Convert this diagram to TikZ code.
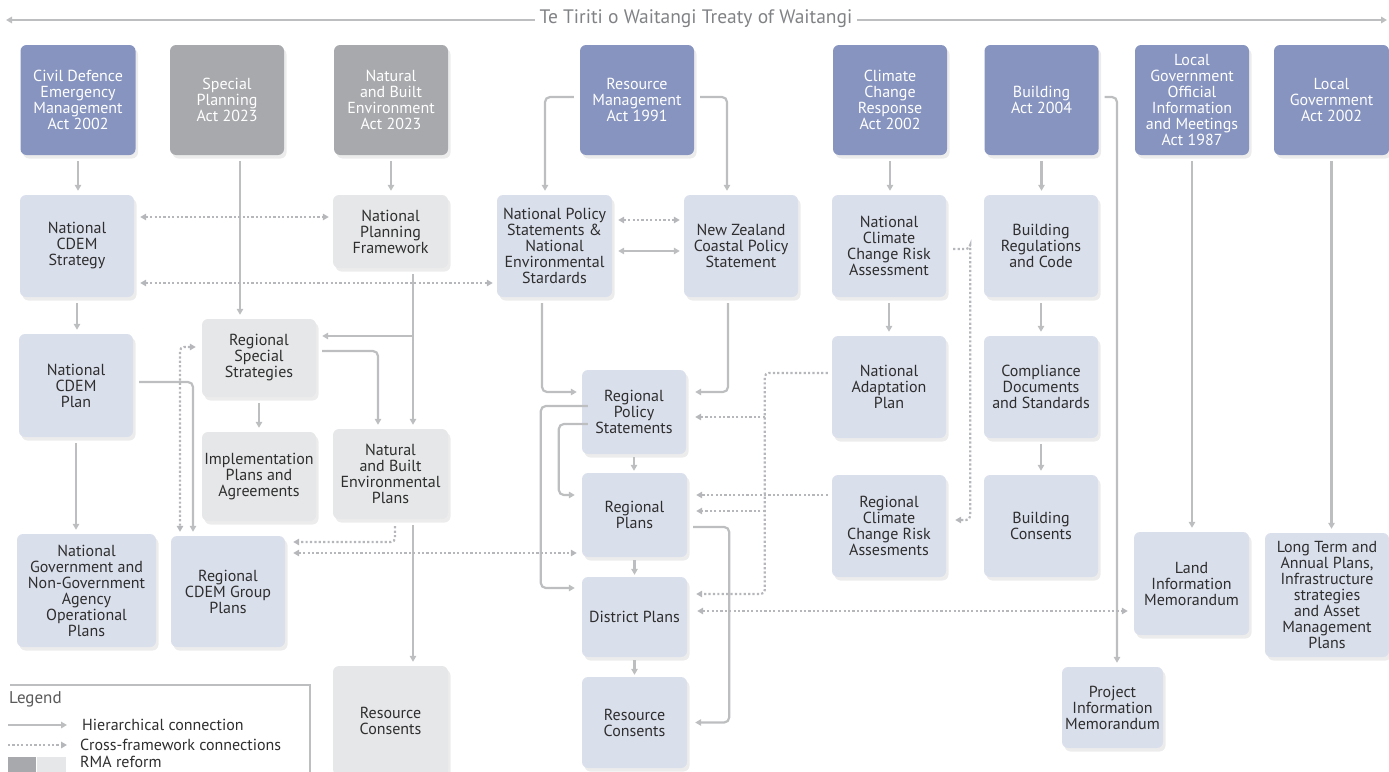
\documentclass[tikz,border=0pt]{standalone}
\usepackage{fontspec}
\setmainfont{PT Sans}
\usetikzlibrary{arrows.meta, calc, positioning, shadows}

\definecolor{actblue}{HTML}{8694BF}
\definecolor{actgray}{HTML}{A7A9AC}
\definecolor{planblue}{HTML}{DADFEC}
\definecolor{plangray}{HTML}{E6E7E8}
\definecolor{linkgray}{HTML}{BCBEC0}
\definecolor{inkgray}{HTML}{2E2E2E}
\definecolor{titlegray}{HTML}{808285}

\begin{document}
\begin{tikzpicture}[x=1pt, y=-1pt, >={Triangle[length=6pt, width=6.5pt]},
		doc box/.style={rectangle, rounded corners=6pt, align=center, inner sep=2pt,
			font=\fontsize{16}{16}\selectfont,
			drop shadow={opacity=0.15, shadow xshift=2.5pt, shadow yshift=-3.5pt}},
		act/.style={doc box, fill=actblue, text=white},
		reform act/.style={doc box, fill=actgray, text=white},
		plan/.style={doc box, fill=planblue, text=inkgray},
		reform plan/.style={doc box, fill=plangray, text=inkgray},
		wh/.style 2 args={minimum width=#1, minimum height=#2},
		hier link/.style={draw=linkgray, line width=2.2pt, rounded corners=5pt},
		cross link/.style={draw=linkgray!110, line width=2.2pt, dash pattern=on 2.2pt off 2.2pt, rounded corners=4pt},
		link gap/.style={shorten <=6pt, shorten >=4pt},
		legend text/.style={anchor=west, inner sep=2pt, text=inkgray, font=\fontsize{16}{16}\selectfont}]
	\useasboundingbox (0,0) rectangle (1389,771);

	\node[text=titlegray, font=\fontsize{19.5}{19.5}\selectfont, inner sep=5pt] (treaty) at (696,19) {Te Tiriti o Waitangi Treaty of Waitangi};
	\coordinate (treaty west) at (6,20);
	\coordinate (treaty east) at (1387,20);
	\draw[hier link, line width=2pt, ->] (treaty.west |- treaty west) -- (treaty west);
	\draw[hier link, line width=2pt, ->] (treaty.east |- treaty east) -- (treaty east);

	% acts
	\node[act, wh={115}{110}] (cdem act) at (78,100) {Civil Defence\\Emergency\\Management\\Act 2002};
	\node[reform act, wh={114}{110}] (spa act) at (227,100) {Special\\Planning\\Act 2023};
	\node[reform act, wh={114}{110}] (nbe act) at (391,100) {Natural\\and Built\\Environment\\Act 2023};
	\node[act, wh={114}{110}] (rma act) at (637,100) {Resource\\Management\\Act 1991};
	\node[act, wh={114}{110}] (ccr act) at (890,100) {Climate\\Change\\Response\\Act 2002};
	\node[act, wh={114}{110}] (building act) at (1041.5,100) {Building\\Act 2004};
	\node[act, wh={114}{110}] (lgoima act) at (1192,100) {Local\\Government\\Official\\Information\\and Meetings\\Act 1987};
	\node[act, wh={115}{110}] (lg act) at (1331.5,100) {Local\\Government\\Act 2002};

	\node[plan, wh={114}{102}] (cdem strategy) at (77,246) {National\\CDEM\\Strategy};
	\node[reform plan, wh={115}{73}] (npf) at (390.5,231.5) {National\\Planning\\Framework};
	\node[plan, wh={115}{102}] (nps) at (554.5,246) {National Policy\\Statements \&\\National\\Environmental\\Stardards};
	\node[plan, wh={114}{102}] (nzcps) at (741,246) {New Zealand\\Coastal Policy\\Statement};
	\node[plan, wh={114}{102}] (nccra) at (889,246) {National\\Climate\\Change Risk\\Assessment};
	\node[plan, wh={114}{102}] (building code) at (1041,246) {Building\\Regulations\\and Code};

	\node[plan, wh={114}{103}] (cdem plan) at (76,385.5) {National\\CDEM\\Plan};
	\node[reform plan, wh={114}{78}] (rss) at (259,358) {Regional\\Special\\Strategies};
	\node[plan, wh={104}{84}] (rps) at (634,412) {Regional\\Policy\\Statements};
	\node[plan, wh={114}{102}] (nap) at (889,387) {National\\Adaptation\\Plan};
	\node[plan, wh={114}{102}] (compliance) at (1041,387) {Compliance\\Documents\\and Standards};

	\node[reform plan, wh={114}{89}] (implementation) at (259,476.5) {Implementation\\Plans and\\Agreements};
	\node[reform plan, wh={115}{90}] (nbe plans) at (390.5,474) {Natural\\and Built\\Environmental\\Plans};
	\node[plan, wh={105}{84}] (regional plans) at (634.5,515) {Regional\\Plans};
	\node[plan, wh={114}{102}] (rccra) at (889,526) {Regional\\Climate\\Change Risk\\Assesments};
	\node[plan, wh={114}{102}] (building consents) at (1041,526) {Building\\Consents};

	\node[plan, wh={139}{113}] (agency plans) at (86.5,590.5) {National\\Government and\\Non-Government\\Agency\\Operational\\Plans};
	\node[plan, wh={114}{111}] (cdem group) at (228,591.5) {Regional\\CDEM Group\\Plans};
	\node[plan, wh={105}{80}] (district plans) at (634.5,617) {District Plans};
	\node[plan, wh={115}{103}] (lim) at (1191.5,583.5) {Land\\Information\\Memorandum};
	\node[plan, wh={124}{124}] (ltp) at (1327,595) {Long Term and\\Annual Plans,\\Infrastructure\\strategies\\and Asset\\Management\\Plans};

	\node[reform plan, wh={115}{109}] (nbe consents) at (390.5,720.5) {Resource\\Consents};
	\node[plan, wh={105}{91}] (rma consents) at (634.5,722.5) {Resource\\Consents};
	\node[plan, wh={101}{81}] (pim) at (1112.5,707.5) {Project\\Information\\Memorandum};

	% hierarchical connections
	\draw[hier link, link gap, ->] (cdem act.south) -- (cdem act.south |- cdem strategy.north);
	\coordinate (spa out) at ([xshift=13pt]spa act.south);
	\draw[hier link, link gap, ->] (spa out) -- (spa out |- rss.north);
	\draw[hier link, link gap, ->] (nbe act.south) -- (nbe act.south |- npf.north);
	\draw[hier link, link gap, ->] ([yshift=3pt]rma act.west) -| ([xshift=-9.5pt]nps.north);
	\draw[hier link, link gap, ->] ([yshift=3pt]rma act.east) -| ([xshift=-14pt]nzcps.north);
	\draw[hier link, link gap, ->] (ccr act.south) -- (ccr act.south |- nccra.north);
	\draw[hier link, link gap, ->] (building act.south) -- (building act.south |- building code.north);
	\draw[hier link, link gap, ->] ([yshift=3pt]building act.east) -| ([xshift=4.5pt]pim.north);
	\draw[hier link, link gap, ->] (lgoima act.south) -- (lgoima act.south |- lim.north);
	\draw[hier link, link gap, ->] (lg act.south) -- (lg act.south |- ltp.north);

	\draw[hier link, link gap, ->] (cdem strategy.south) -- (cdem strategy.south |- cdem plan.north);
	\draw[hier link, link gap, ->] (cdem plan.south) -- (cdem plan.south |- agency plans.north);
	\draw[hier link, link gap, ->] ([yshift=3.5pt]cdem plan.east) -| ([xshift=-35pt]cdem group.north);

	\coordinate (nbe trunk) at ([xshift=22.5pt]npf.south);
	\coordinate (rss in) at ([yshift=22pt]rss.east);
	\draw[hier link, link gap, ->] (nbe trunk) -- (nbe trunk |- nbe plans.north);
	\draw[hier link, shorten >=6pt, ->] (nbe trunk |- rss in) -- (rss in);
	\draw[hier link, link gap, ->] ([yshift=7pt]rss.east) -| ([xshift=-12.5pt]nbe plans.north);
	\draw[hier link, link gap, ->] (rss.south) -- (rss.south |- implementation.north);
	\coordinate (nbe out) at ([xshift=22.5pt]nbe plans.south);
	\draw[hier link, link gap, ->] (nbe out) -- (nbe out |- nbe consents.north);

	\draw[hier link, link gap, <->] ([yshift=-5pt]nps.east) -- ([yshift=-5pt]nzcps.west);
	\draw[hier link, shorten <=6pt, shorten >=5pt, ->] ([xshift=-12.5pt]nps.south) |- ([yshift=20pt]rps.west);
	\draw[hier link, shorten <=6pt, shorten >=9pt, ->] ([xshift=-13pt]nzcps.south) |- ([yshift=20pt]rps.east);
	\draw[hier link, shorten <=3pt, shorten >=2pt, ->] (rps.south) -- (rps.south |- regional plans.north);
	\draw[hier link, shorten <=3pt, shorten >=2pt, ->] (regional plans.south) -- (regional plans.south |- district plans.north);
	\draw[hier link, shorten <=3pt, shorten >=2pt, ->] (district plans.south) -- (district plans.south |- rma consents.north);
	\coordinate (rps outer bus) at ([xshift=-41pt, yshift=6pt]rps.west);
	\coordinate (rps inner bus) at ([xshift=-23pt, yshift=-12pt]rps.west);
	\draw[hier link, shorten <=-6pt, shorten >=7pt, ->] ([yshift=6pt]rps.west) -- (rps outer bus) |- ([yshift=29pt]district plans.west);
	\draw[hier link, shorten <=-6pt, shorten >=7pt, ->] ([yshift=-12pt]rps.west) -- (rps inner bus) |- ([yshift=20pt]regional plans.west);
	\coordinate (rp bus) at ([xshift=42pt, yshift=-12pt]regional plans.east);
	\draw[hier link, shorten <=6pt, shorten >=8pt, ->] ([yshift=-12pt]regional plans.east) -- (rp bus) |- (rma consents.east);

	\draw[hier link, link gap, ->] (nccra.south) -- (nccra.south |- nap.north);
	\draw[hier link, link gap, ->] (building code.south) -- (building code.south |- compliance.north);
	\draw[hier link, link gap, ->] (compliance.south) -- (compliance.south |- building consents.north);

	% cross-framework connections
	\draw[cross link, link gap, <->] ([yshift=29pt]cdem strategy.east) -- ([yshift=14.5pt]npf.west);
	\draw[cross link, link gap, <->] ([yshift=-37pt]cdem strategy.east) -- ([yshift=-37pt]nps.west);
	\draw[cross link, link gap, <->] ([yshift=26pt]nps.east) -- ([yshift=26pt]nzcps.west);
	\draw[cross link, link gap, <->] ([yshift=11pt]rss.west) -| ([xshift=-48pt]cdem group.north);
	\draw[cross link, shorten <=7pt, shorten >=8pt, ->] ([xshift=4.5pt]nbe plans.south) |- ([yshift=49.5pt]cdem group.east);
	\draw[cross link, shorten <=8pt, shorten >=5pt, <->] ([yshift=38.5pt]cdem group.east) -- ([yshift=-38pt]regional plans.west);

	\coordinate (adapt bus) at ([xshift=-67pt]nap.west);
	\coordinate (rps cross in) at ([yshift=-5pt]rps.east);
	\coordinate (rp cross in) at ([yshift=4pt]regional plans.east);
	\draw[cross link, shorten <=4pt, shorten >=9pt, ->] ([yshift=14pt]nap.west) -| (adapt bus) |- ([yshift=23pt]district plans.east);
	\draw[cross link, shorten >=9pt, ->] (adapt bus |- rps cross in) -- (rps cross in);
	\draw[cross link, shorten >=9pt, ->] (adapt bus |- rp cross in) -- (rp cross in);
	\draw[cross link, shorten <=4pt, shorten >=9pt, ->] ([yshift=31pt]rccra.west) -- ([yshift=20pt]regional plans.east);
	\coordinate (risk bus) at ([xshift=24pt, yshift=-3pt]nccra.east);
	\draw[cross link, shorten <=7pt, shorten >=9pt, ->] ([yshift=-3pt]nccra.east) -| (risk bus) |- ([yshift=6pt]rccra.east);
	\draw[cross link, shorten <=10pt, shorten >=6pt, <->] ([yshift=6pt]district plans.east) -- ([yshift=-27.5pt]lim.west);

	% legend
	\draw[draw=linkgray, line width=1.5pt] (10,685) -- (310,685) -- (310,775);
	\node[legend text, text=black!65, font=\fontsize{17}{17}\selectfont] (legend title) at (7,699) {Legend};
	\node[legend text] (hier label) at (80,725) {Hierarchical connection};
	\node[legend text] (cross label) at (78,745) {Cross-framework connections};
	\node[legend text] (reform label) at (78,762) {RMA reform};
	\coordinate (hier key) at (8,725);
	\coordinate (cross key) at (8,745);
	\draw[hier link, line width=2pt, shorten >=13pt, ->] (hier key) -- (hier key -| hier label.west);
	\draw[cross link, line width=2pt, shorten >=11pt, ->] (cross key) -- (cross key -| cross label.west);
	\node[fill=actgray, minimum width=28, minimum height=16, inner sep=0pt, anchor=north west] (reform dark) at (8,757) {};
	\node[fill=plangray, minimum width=29, minimum height=16, inner sep=0pt, anchor=north west] (reform light) at (reform dark.north east) {};
\end{tikzpicture}
\end{document}
